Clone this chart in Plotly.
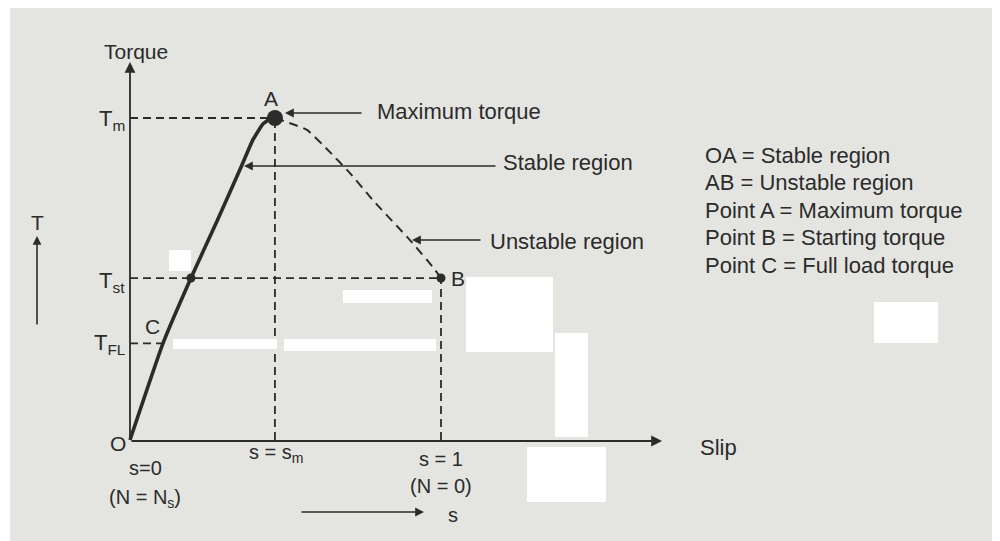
import plotly.graph_objects as go

# --- data (slip s, torque T as fraction of Tm) ---
stable_s = [0.0, 0.106, 0.196, 0.280, 0.360, 0.395, 0.428, 0.450, 0.466]
stable_T = [0.0, 0.300, 0.503, 0.680, 0.854, 0.932, 0.982, 0.997, 1.000]

unstable_s = [0.466, 0.569, 0.643, 0.707, 0.781, 0.900, 0.974, 1.000]
unstable_T = [1.000, 0.963, 0.894, 0.829, 0.745, 0.621, 0.537, 0.503]

S_M = 0.466      # slip at max torque
T_M = 1.0        # maximum torque
T_ST = 0.503     # starting torque
T_FL = 0.300     # full load torque
S_FL = 0.106     # slip at full load

legend_lines = ["OA = Stable region", "AB = Unstable region", "Point A = Maximum torque",
                "Point B = Starting torque", "Point C = Full load torque"]

# --- pixel <-> data helpers (screen px, origin O at 130,440) ---
X0, Y0, PX_S, PX_T = 130, 440, 311, 322
OFF = 8  # page body margin
def sx(px):
    return (px - X0) / PX_S
def ty(py):
    return (Y0 - py) / PX_T

INK = "#2b2b2b"
FONT = "Liberation Sans, Arial, sans-serif"
DASH = "8px,5px"

fig = go.Figure()

# guide lines
guides = [
    ([0, S_M], [T_M, T_M]),
    ([0, 1.0], [T_ST, T_ST]),
    ([0, S_FL], [T_FL, T_FL]),
    ([S_M, S_M], [0, T_M]),
    ([1.0, 1.0], [0, T_ST]),
]
for gx, gy in guides:
    fig.add_trace(go.Scatter(x=gx, y=gy, mode="lines", showlegend=False, hoverinfo="skip",
                             line=dict(color=INK, width=1.8, dash=DASH)))

# torque-slip curve
fig.add_trace(go.Scatter(x=stable_s, y=stable_T, mode="lines", line_shape="spline",
                         line=dict(color=INK, width=3.6, smoothing=0.4),
                         showlegend=False, hoverinfo="skip"))
fig.add_trace(go.Scatter(x=unstable_s, y=unstable_T, mode="lines", line_shape="spline",
                         line=dict(color=INK, width=2, dash="9px,6px", smoothing=0.4),
                         showlegend=False, hoverinfo="skip"))

# points A, Tst, B
fig.add_trace(go.Scatter(x=[S_M], y=[T_M], mode="markers", marker=dict(size=16, color=INK),
                         showlegend=False, hoverinfo="skip"))
fig.add_trace(go.Scatter(x=[stable_s[2], 1.0], y=[T_ST, T_ST], mode="markers",
                         marker=dict(size=9, color=INK), showlegend=False, hoverinfo="skip"))

ann = []
def arrow(x0, y0, x1, y1, w=1.6, head=2, size=1.1):
    ann.append(dict(x=sx(x1), y=ty(y1), ax=sx(x0), ay=ty(y0), xref="x", yref="y",
                    axref="x", ayref="y", showarrow=True, arrowhead=head, arrowsize=size,
                    arrowwidth=w, arrowcolor=INK, text=""))
def label(px, py, txt, size=21, anchor="center"):
    ann.append(dict(x=sx(px), y=ty(py), xref="x", yref="y", text=txt, showarrow=False,
                    xanchor=anchor, yanchor="middle", font=dict(family=FONT, size=size, color=INK)))

# axes
arrow(130, 441, 130, 62, w=1.8, head=2, size=1.2)
arrow(130, 441, 662, 441, w=1.8, head=2, size=1.2)
# T arrow on left and s arrow at bottom
arrow(37, 326, 37, 236, w=1.6, head=2, size=1.1)
arrow(300, 512, 424, 512, w=1.6, head=2, size=1.1)

# pointer arrows
arrow(363, 113, 285, 113)
arrow(497, 166, 244, 166)
arrow(482, 240, 412, 240)

label(136, 51, "Torque", 21)
label(112, 120, "T<sub>m</sub>", 22)
label(112, 282, "T<sub>st</sub>", 22)
label(110, 344, "T<sub>FL</sub>", 22)
label(37, 222, "T", 21)
label(271, 98, "A", 21)
label(458, 278, "B", 21)
label(152, 326, "C", 21)
label(118, 443, "O", 21)
label(375, 111, "Maximum torque", 22, "left")
label(501, 162, "Stable region", 22, "left")
label(488, 241, "Unstable region", 22, "left")
label(698, 447, "Slip", 22, "left")
label(276, 453, "s = s<sub>m</sub>", 20)
label(441, 459, "s = 1", 20)
label(441, 486, "(N = 0)", 20)
label(145, 468, "s=0", 20)
label(145, 498, "(N = N<sub>s</sub>)", 20)
label(453, 515, "s", 20)
for i, line in enumerate(legend_lines):
    label(703, 155 + i * 27.6, line, 22, "left")

fig.update_layout(annotations=ann)

# white patches present in the scanned page (screen px)
patches = [(8, 8, 10, 541), (169, 250, 191, 271), (343, 290, 432, 303), (173, 339, 277, 349),
           (284, 339, 436, 351), (466, 277, 553, 352), (555, 333, 588, 437),
           (527, 447, 606, 502), (874, 302, 938, 343)]
W, H = 1000 - OFF, 541 - OFF
for x0, y0, x1, y1 in patches:
    fig.add_shape(type="rect", xref="paper", yref="paper", x0=(x0 - OFF) / W, x1=(x1 - OFF) / W,
                  y0=1 - (y1 - OFF) / H, y1=1 - (y0 - OFF) / H,
                  fillcolor="white", line_width=0, layer="above")

fig.update_layout(
    width=W, height=H,
    margin=dict(l=0, r=0, t=0, b=0),
    paper_bgcolor="#e4e5e1", plot_bgcolor="#e4e5e1",
    xaxis=dict(range=[sx(OFF), sx(1000)], visible=False, fixedrange=True),
    yaxis=dict(range=[ty(541), ty(OFF)], visible=False, fixedrange=True),
    showlegend=False,
)

fig.write_html("out.html")
